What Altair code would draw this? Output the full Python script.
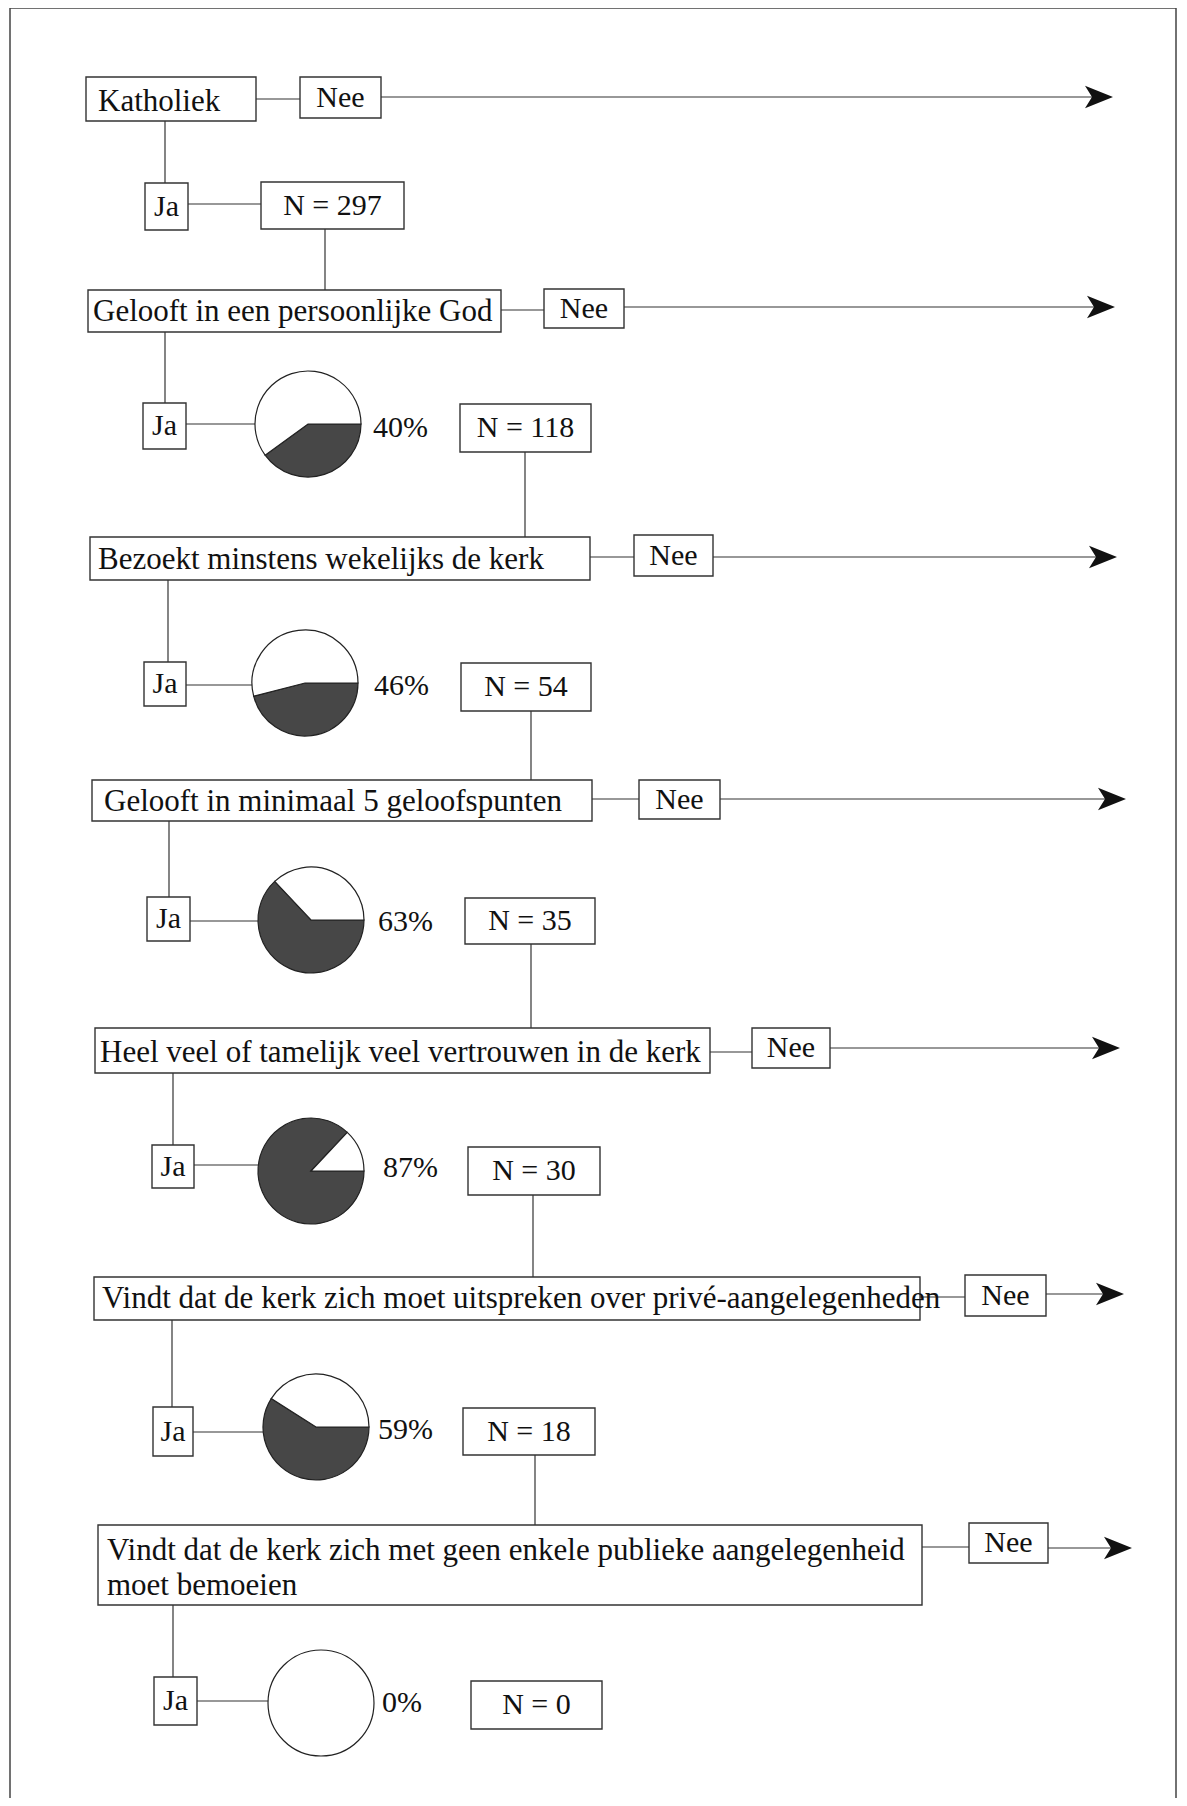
import math
import altair as alt
import pandas as pd

# ---------------- content ----------------
questions = [
    "Katholiek",
    "Gelooft in een persoonlijke God",
    "Bezoekt minstens wekelijks de kerk",
    "Gelooft in minimaal 5 geloofspunten",
    "Heel veel of tamelijk veel vertrouwen in de kerk",
    "Vindt dat de kerk zich moet uitspreken over privé-aangelegenheden",
    "Vindt dat de kerk zich met geen enkele publieke aangelegenheid\nmoet bemoeien",
]
n_values = [297, 118, 54, 35, 30, 18, 0]
pct_yes = [None, 40, 46, 63, 87, 59, 0]
yes_label = "Ja"
no_label = "Nee"

# ---------------- layout (pixels of the figure) ----------------
q_box = [(86, 256, 77, 121), (88, 501, 290, 332), (90, 590, 537, 580),
         (92, 592, 780, 821), (95, 710, 1028, 1073), (94, 920, 1277, 1320),
         (98, 922, 1525, 1605)]
q_text_x = [98, 93, 98, 104, 100, 102, 107]
q_text_y = [102, 312, 560, 802, 1053, 1299, 1551]
line_gap = 35
nee_box = [(300, 381, 77, 118), (544, 624, 289, 328), (634, 713, 535, 576),
           (639, 720, 780, 819), (752, 830, 1028, 1068), (965, 1046, 1275, 1316),
           (969, 1048, 1523, 1563)]
nee_conn_y = [99, 310, 557, 799, 1052, 1297, 1547]
arrow_y = [97, 307, 557, 799, 1048, 1294, 1548]
arrow_tip = [1113, 1115, 1117, 1126, 1120, 1124, 1132]
ja_vline_x = [165, 165, 168, 169, 173, 172, 173]
ja_box = [(145, 188, 183, 230), (143, 186, 403, 449), (144, 186, 662, 706),
          (147, 190, 897, 941), (152, 194, 1145, 1188), (153, 193, 1407, 1456),
          (154, 197, 1677, 1725)]
ja_conn_y = [204, 424, 685, 921, 1165, 1432, 1701]
pie_c = [None, (308, 424), (305, 683), (311, 920), (311, 1171), (316, 1427), (321, 1703)]
pie_r = 53
pct_x = [None, 373, 374, 378, 383, 378, 382]
pct_y = [None, 428, 686, 922, 1168, 1430, 1703]
n_box = [(261, 404, 182, 229), (460, 591, 404, 452), (461, 591, 663, 711),
         (465, 595, 898, 944), (468, 600, 1147, 1195), (463, 595, 1408, 1455),
         (471, 602, 1681, 1729)]
n_vline_x = [325, 525, 531, 531, 533, 535]
frame = (10, 1176, 8, 1802)

W, H = 1171, 1790
XS = alt.Scale(domain=[8, 8 + W], nice=False, zero=False)
YS = alt.Scale(domain=[8, 8 + H], nice=False, zero=False, reverse=True)
FONT = "Liberation Serif"
INK = "#111111"
LINE = "#333333"


def X(f):
    return alt.X(f, type="quantitative", scale=XS, axis=None)


def Y(f):
    return alt.Y(f, type="quantitative", scale=YS, axis=None)


# ---------------- tables ----------------
boxes = []
for b in q_box + nee_box + ja_box + n_box:
    boxes.append(dict(x=b[0], x2=b[1], y=b[2], y2=b[3]))
boxes_df = pd.DataFrame(boxes)

rules = []
for i in range(len(questions)):
    qb, nb, jb, Nb = q_box[i], nee_box[i], ja_box[i], n_box[i]
    rules.append(dict(x=ja_vline_x[i], x2=ja_vline_x[i], y=qb[3], y2=jb[2]))
    rules.append(dict(x=qb[1], x2=nb[0], y=nee_conn_y[i], y2=nee_conn_y[i]))
    rules.append(dict(x=nb[1], x2=arrow_tip[i] - 20, y=arrow_y[i], y2=arrow_y[i]))
    end = Nb[0] if pie_c[i] is None else pie_c[i][0] - pie_r
    rules.append(dict(x=jb[1], x2=end, y=ja_conn_y[i], y2=ja_conn_y[i]))
    if i < len(questions) - 1:
        rules.append(dict(x=n_vline_x[i], x2=n_vline_x[i], y=Nb[3], y2=q_box[i + 1][2]))
rules_df = pd.DataFrame(rules)

qtext = []
for i, q in enumerate(questions):
    for k, line in enumerate(q.split("\n")):
        qtext.append(dict(x=q_text_x[i], y=q_text_y[i] + k * line_gap, t=line))
qtext_df = pd.DataFrame(qtext)

ctext = []
for i in range(len(questions)):
    nb, jb, Nb = nee_box[i], ja_box[i], n_box[i]
    ctext.append(dict(x=(nb[0] + nb[1]) / 2, y=(nb[2] + nb[3]) / 2, t=no_label))
    ctext.append(dict(x=(jb[0] + jb[1]) / 2, y=(jb[2] + jb[3]) / 2, t=yes_label))
    ctext.append(dict(x=(Nb[0] + Nb[1]) / 2, y=(Nb[2] + Nb[3]) / 2, t=f"N = {n_values[i]}"))
ctext_df = pd.DataFrame(ctext)

ptext = []
for i, p in enumerate(pct_yes):
    if p is not None:
        ptext.append(dict(x=pct_x[i], y=pct_y[i], t=f"{p}%"))
ptext_df = pd.DataFrame(ptext)

arrows_df = pd.DataFrame(dict(x=arrow_tip, y=arrow_y))

pies = []
for i, p in enumerate(pct_yes):
    if p is None:
        continue
    pies.append(dict(pie=i, cx=pie_c[i][0], cy=pie_c[i][1], part="ja", k=0, v=p))
    pies.append(dict(pie=i, cx=pie_c[i][0], cy=pie_c[i][1], part="nee", k=1, v=100 - p))
pies_df = pd.DataFrame(pies)

# ---------------- layers ----------------
frame_layer = alt.Chart(pd.DataFrame([dict(x=frame[0], x2=frame[1], y=frame[2], y2=frame[3])])).mark_rect(
    fillOpacity=0, stroke="#444444", strokeWidth=1.5
).encode(x=X("x"), x2="x2", y=Y("y"), y2="y2")

rule_layer = alt.Chart(rules_df).mark_rule(color=LINE, strokeWidth=1.2).encode(
    x=X("x"), x2="x2", y=Y("y"), y2="y2"
)

box_layer = alt.Chart(boxes_df).mark_rect(
    fill="white", stroke=LINE, strokeWidth=1.4
).encode(x=X("x"), x2="x2", y=Y("y"), y2="y2")

arrow_layer = alt.Chart(arrows_df).mark_point(
    shape="M0,0L-2,-0.8L-1.5,0L-2,0.8Z", filled=True, size=784, color=INK, opacity=1, strokeWidth=0
).encode(x=X("x"), y=Y("y"))

qtext_layer = alt.Chart(qtext_df).mark_text(
    align="left", baseline="middle", font=FONT, fontSize=31, color=INK
).encode(x=X("x"), y=Y("y"), text="t:N")

ctext_layer = alt.Chart(ctext_df).mark_text(
    align="center", baseline="middle", font=FONT, fontSize=30, color=INK
).encode(x=X("x"), y=Y("y"), text="t:N")

ptext_layer = alt.Chart(ptext_df).mark_text(
    align="left", baseline="middle", font=FONT, fontSize=30, color=INK
).encode(x=X("x"), y=Y("y"), text="t:N")

pie_layers = []
for i in sorted(pies_df["pie"].unique()):
    pl = alt.Chart(pies_df).transform_filter(
        f"datum.pie == {int(i)} && datum.v > 0"
    ).mark_arc(radius=pie_r, stroke="#222222", strokeWidth=1.2).encode(
        x=X("cx"), y=Y("cy"),
        theta=alt.Theta("v:Q", stack=True, scale=alt.Scale(domain=[0, 100], range=[math.pi / 2, 5 * math.pi / 2])),
        color=alt.Color("part:N", scale=alt.Scale(domain=["ja", "nee"], range=["#474747", "#ffffff"]), legend=None),
        order=alt.Order("k:Q"),
    )
    pie_layers.append(pl)

chart = alt.layer(
    frame_layer, rule_layer, box_layer, arrow_layer, *pie_layers,
    qtext_layer, ctext_layer, ptext_layer
).properties(
    width=W, height=H, padding=0, autosize=alt.AutoSizeParams(type="none"),
    background="white"
).configure_view(strokeWidth=0)

chart.save("out.html", embed_options={"renderer": "svg", "actions": False})
